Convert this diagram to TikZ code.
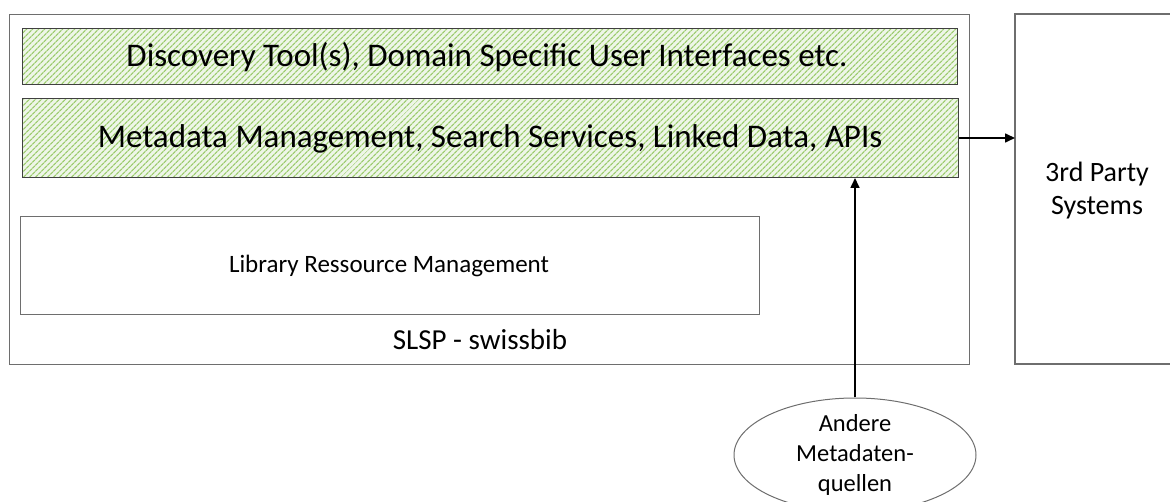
\documentclass[tikz,border=0pt]{standalone}
\usepackage{fontspec}
\setmainfont{Carlito}
\usetikzlibrary{patterns.meta,shapes.geometric,arrows.meta}
\definecolor{hatchbg}{HTML}{EEF6E8}
\definecolor{hatch}{HTML}{9CCB6E}
\definecolor{frame}{HTML}{6E6E6E}
\begin{document}
\begin{tikzpicture}[x=1pt,y=-1pt,
  box/.style={draw=frame,line width=1pt,inner sep=0pt},
  greenbox/.style={box,draw=black!75,preaction={fill=hatchbg},pattern={Lines[angle=45,distance=4pt,line width=1.3pt]},pattern color=hatch},
  arr/.style={line width=1.6pt,-{Triangle[length=10pt,width=9pt]}}]
\useasboundingbox (0,0) rectangle (1170,502);
% outer box
\node[box,minimum width=960pt,minimum height=350pt,anchor=north west] (slsp) at (9,14) {};
\node[font=\fontsize{29}{34}\selectfont] (slsplbl) at (480,340) {SLSP - swissbib};
% green boxes
\node[greenbox,minimum width=935pt,minimum height=56pt,anchor=north west] (disc) at (22,28) {};
\node[font=\fontsize{33}{38}\selectfont] at (487,57) {Discovery Tool(s), Domain Specific User Interfaces etc.};
\node[greenbox,minimum width=936pt,minimum height=79pt,anchor=north west] (meta) at (22,98) {};
\node[font=\fontsize{33}{38}\selectfont] (metalbl) at (490,139) {Metadata Management, Search Services, Linked Data, APIs};
% library box
\node[box,minimum width=739pt,minimum height=98pt,anchor=north west] (lib) at (20,216) {};
\node[font=\fontsize{25}{30}\selectfont] at (389,266) {Library Ressource Management};
% third party
\draw[frame,line width=2pt] (1180,14) -- (1015,14) -- (1015,364) -- (1180,364);
\coordinate (tp) at (1015,139);
\node[font=\fontsize{28}{33}\selectfont,align=center] (tpl) at (1097,191) {3rd Party\\Systems};
% ellipse
\node[draw=frame,line width=1pt,ellipse,minimum width=242pt,minimum height=114pt,inner sep=0pt] (other) at (855,455) {};
\node[font=\fontsize{24.5}{30}\selectfont,align=center] at (855,455) {Andere\\Metadaten-\\quellen};
% arrows
\draw[arr] (meta.east) -- (meta.east -| tp);
\draw[arr] (other.north) -- (other.north |- meta.south);
\end{tikzpicture}
\end{document}
